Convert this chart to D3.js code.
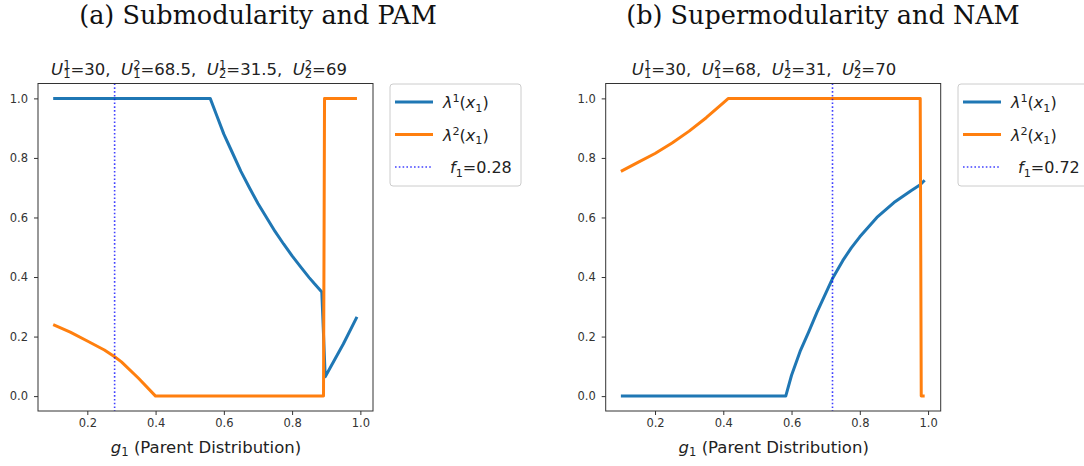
<!DOCTYPE html>
<html>
<head>
<meta charset="utf-8">
<script src="https://cdn.jsdelivr.net/npm/d3@7"></script>
<style>
  body { margin: 0; background: #fff; }
  svg text { white-space: pre; }
</style>
</head>
<body>
<div id="viz"></div>
<script>
// panel (a): submodularity and PAM
const aLam1X = [0.10, 0.56, 0.58, 0.60, 0.62, 0.65, 0.675, 0.70, 0.725, 0.75, 0.775, 0.80, 0.825, 0.85, 0.865, 0.887, 0.897, 0.95, 0.99];
const aLam1Y = [1.0, 1.0, 0.94, 0.88, 0.83, 0.755, 0.70, 0.647, 0.60, 0.553, 0.511, 0.471, 0.434, 0.398, 0.378, 0.35, 0.065, 0.175, 0.266];
const aLam2X = [0.10, 0.15, 0.20, 0.25, 0.28, 0.30, 0.35, 0.40, 0.892, 0.895, 0.99];
const aLam2Y = [0.24, 0.215, 0.185, 0.155, 0.132, 0.115, 0.06, 0.0, 0.0, 1.0, 1.0];
const aF1 = 0.28;

// panel (b): supermodularity and NAM
const bLam1X = [0.10, 0.583, 0.60, 0.625, 0.65, 0.675, 0.70, 0.72, 0.75, 0.775, 0.80, 0.85, 0.90, 0.95, 0.977, 0.99];
const bLam1Y = [0.0, 0.0, 0.07, 0.15, 0.215, 0.283, 0.345, 0.395, 0.455, 0.498, 0.535, 0.60, 0.65, 0.69, 0.71, 0.725];
const bLam2X = [0.10, 0.15, 0.20, 0.25, 0.30, 0.35, 0.40, 0.415, 0.977, 0.98, 0.99];
const bLam2Y = [0.755, 0.785, 0.815, 0.85, 0.89, 0.935, 0.985, 1.0, 1.0, 0.0, 0.0];
const bF1 = 0.72;

const xTicks = [0.2, 0.4, 0.6, 0.8, 1.0];
const yTicks = [0.0, 0.2, 0.4, 0.6, 0.8, 1.0];

const svg = d3.select("#viz").append("svg")
    .attr("width", 1084)
    .attr("height", 466);

// little mathtext helper: parts with italic / sup / sub, stacked scripts via back
function mathText(el, parts, fs) {
  let off = 0;
  parts.forEach(p => {
    const target = p.s === "sup" ? -0.36 * fs : p.s === "sub" ? 0.22 * fs : 0;
    const small = p.s ? fs * 0.7 : fs;
    const t = el.append("tspan").text(p.t)
      .attr("dy", target - off)
      .attr("font-size", small)
      .attr("font-style", p.i ? "italic" : "normal");
    if (p.back) t.attr("dx", -p.back * small);
    off = target;
  });
}

function uParts(vals) {
  // vals: [[sup, sub, value], ...]
  let parts = [];
  vals.forEach((v, i) => {
    parts.push({t: "U", i: true});
    parts.push({t: v[0], s: "sup"});
    parts.push({t: v[1], s: "sub", back: 0.636});
    parts.push({t: "=" + v[2] + (i < vals.length - 1 ? ",  " : "")});
  });
  return parts;
}

function drawPanel(cfg) {
  const g = svg.append("g");
  const x = d3.scaleLinear().domain([0.0555, 1.037]).range([cfg.left, cfg.left + 335]);
  const y = d3.scaleLinear().domain([-0.05, 1.05]).range([411, 83.5]);

  // caption
  g.append("text")
    .attr("x", cfg.capX).attr("y", 24)
    .attr("text-anchor", "middle")
    .attr("font-family", "DejaVu Serif")
    .attr("font-size", 25.5)
    .attr("fill", "#111")
    .text(cfg.caption);

  // axes title
  const t = g.append("text")
    .attr("x", cfg.titleX).attr("y", 74.5)
    .attr("text-anchor", "middle")
    .attr("font-family", "DejaVu Sans")
    .attr("fill", "#222");
  mathText(t, uParts(cfg.us), 16.5);

  // axes
  const xAxis = g.append("g")
    .attr("transform", "translate(0,411)")
    .call(d3.axisBottom(x).tickValues(xTicks).tickFormat(d3.format(".1f")).tickSize(4).tickPadding(4));
  const yAxis = g.append("g")
    .attr("transform", `translate(${cfg.left},0)`)
    .call(d3.axisLeft(y).tickValues(yTicks).tickFormat(d3.format(".1f")).tickSize(4).tickPadding(6));
  [xAxis, yAxis].forEach(a => {
    a.select(".domain").remove();
    a.selectAll("line").attr("stroke", "#333");
    a.selectAll("text").attr("font-family", "DejaVu Sans").attr("font-size", 11.5).attr("fill", "#333");
  });

  const line = d3.line().x(d => x(d[0])).y(d => y(d[1]));

  g.append("path")
    .datum(d3.zip(cfg.l1x, cfg.l1y))
    .attr("fill", "none").attr("stroke", "#1f77b4").attr("stroke-width", 3)
    .attr("stroke-linejoin", "round")
    .attr("d", line);
  g.append("path")
    .datum(d3.zip(cfg.l2x, cfg.l2y))
    .attr("fill", "none").attr("stroke", "#ff7f0e").attr("stroke-width", 3)
    .attr("stroke-linejoin", "round")
    .attr("d", line);

  // vertical f1 line
  g.append("line")
    .attr("x1", x(cfg.f1)).attr("x2", x(cfg.f1))
    .attr("y1", 83.5).attr("y2", 411)
    .attr("stroke", "#0000ff").attr("stroke-opacity", 0.75)
    .attr("stroke-width", 1.6).attr("stroke-dasharray", "1.6,2.2");

  // frame
  g.append("rect")
    .attr("x", cfg.left).attr("y", 83.5)
    .attr("width", 335).attr("height", 327.5)
    .attr("fill", "none").attr("stroke", "#333").attr("stroke-width", 1);

  // x label
  const xl = g.append("text")
    .attr("x", cfg.left + 168).attr("y", 452.5)
    .attr("text-anchor", "middle")
    .attr("font-family", "DejaVu Sans")
    .attr("fill", "#222");
  mathText(xl, [{t: "g", i: true}, {t: "1", s: "sub"}, {t: " (Parent Distribution)"}], 16.5);

  // legend
  const lg = g.append("g").attr("transform", `translate(${cfg.legX},84)`);
  lg.append("rect")
    .attr("width", 131).attr("height", 102).attr("rx", 3)
    .attr("fill", "#fff").attr("fill-opacity", 0.8)
    .attr("stroke", "#ccc").attr("stroke-width", 1);
  const rows = [
    {c: "#1f77b4", dash: null, w: 3, parts: [{t: "λ", i: true}, {t: "1", s: "sup"}, {t: "("}, {t: "x", i: true}, {t: "1", s: "sub"}, {t: ")"}], tx: 53},
    {c: "#ff7f0e", dash: null, w: 3, parts: [{t: "λ", i: true}, {t: "2", s: "sup"}, {t: "("}, {t: "x", i: true}, {t: "1", s: "sub"}, {t: ")"}], tx: 53},
    {c: "#0000ff", dash: "1.6,2.2", w: 1.6, parts: [{t: "f", i: true}, {t: "1", s: "sub"}, {t: "=" + cfg.f1}], tx: 60}
  ];
  rows.forEach((r, i) => {
    const yy = 18 + i * 32.5;
    lg.append("line")
      .attr("x1", 5).attr("x2", 43).attr("y1", yy).attr("y2", yy)
      .attr("stroke", r.c).attr("stroke-width", r.w)
      .attr("stroke-opacity", r.dash ? 0.75 : 1)
      .attr("stroke-dasharray", r.dash);
    const tt = lg.append("text")
      .attr("x", r.tx).attr("y", yy + 6)
      .attr("font-family", "DejaVu Sans")
      .attr("fill", "#222");
    mathText(tt, r.parts, 16);
  });
}

drawPanel({
  left: 38, capX: 258, titleX: 199, legX: 390,
  caption: "(a) Submodularity and PAM",
  us: [["1", "1", "30"], ["2", "1", "68.5"], ["1", "2", "31.5"], ["2", "2", "69"]],
  l1x: aLam1X, l1y: aLam1Y, l2x: aLam2X, l2y: aLam2Y, f1: aF1
});
drawPanel({
  left: 605.7, capX: 823, titleX: 764, legX: 958,
  caption: "(b) Supermodularity and NAM",
  us: [["1", "1", "30"], ["2", "1", "68"], ["1", "2", "31"], ["2", "2", "70"]],
  l1x: bLam1X, l1y: bLam1Y, l2x: bLam2X, l2y: bLam2Y, f1: bF1
});
</script>
</body>
</html>
